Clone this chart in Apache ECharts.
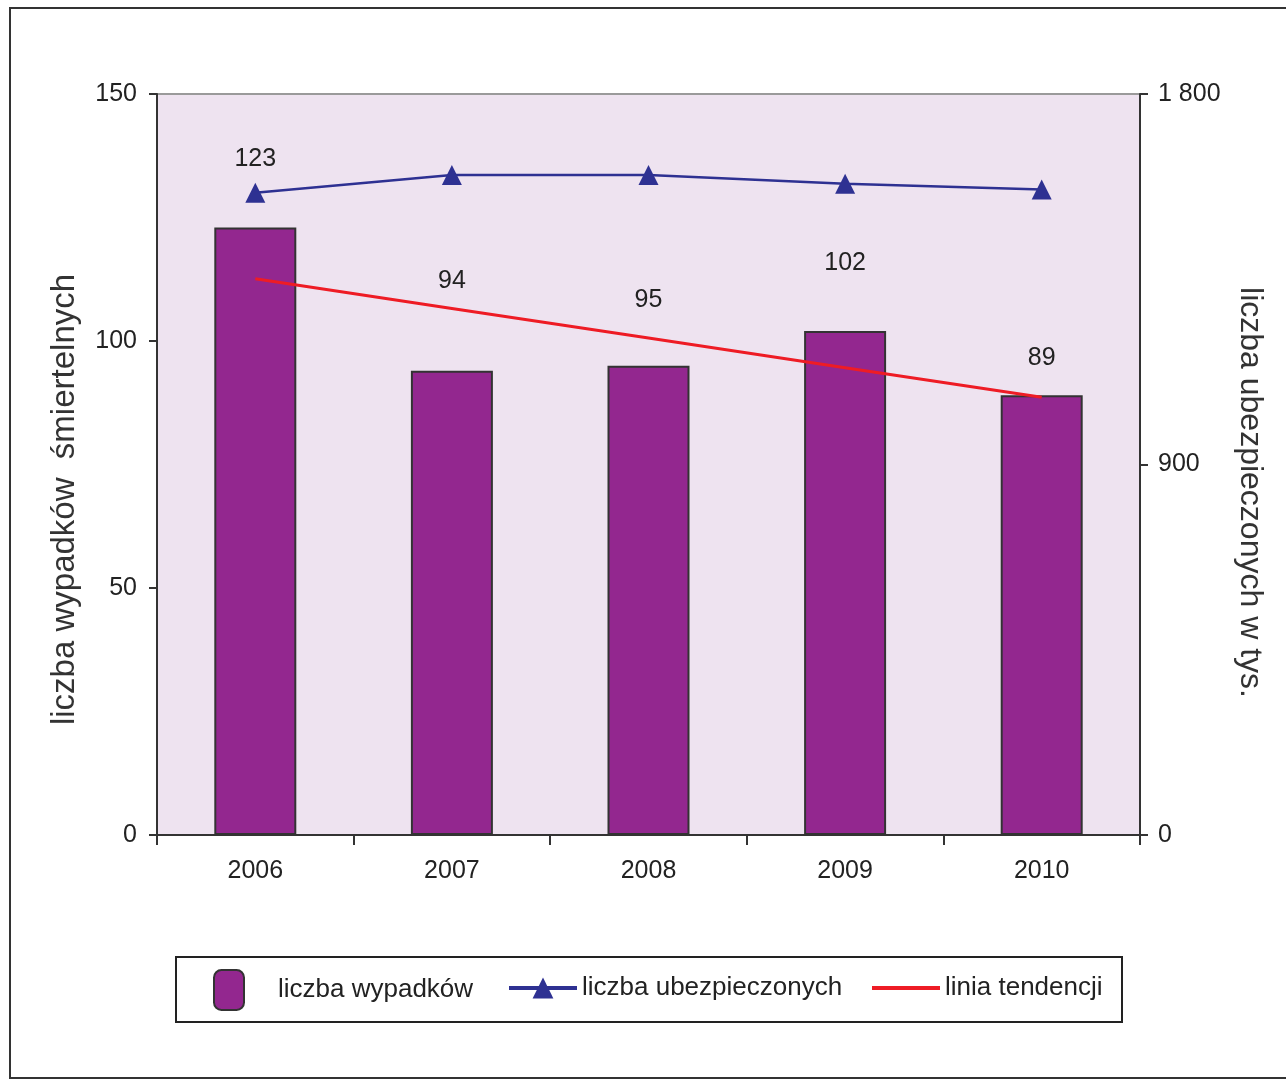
<!DOCTYPE html>
<html>
<head>
<meta charset="utf-8">
<style>html,body{margin:0;padding:0;background:#fff;}#c{width:1286px;height:1081px;}</style>
<script src="https://cdn.jsdelivr.net/npm/echarts@6/dist/echarts.min.js"></script>
</head>
<body>
<div id="c"></div>
<script>
// ---- data ----
const years = ['2006', '2007', '2008', '2009', '2010'];
const accidents = [123, 94, 95, 102, 89];          // liczba wypadków (left axis)
const insured = [1560, 1603, 1603, 1582, 1568];    // liczba ubezpieczonych w tys. (right axis)
const trend = [112.6, 106.6, 100.6, 94.6, 88.6];   // linia tendencji (left axis)
const leftTicks = ['0', '50', '100', '150'];
const rightTickLabels = {0: '0', 900: '900', 1800: '1 800'};

// ---- styles ----
const labelDistance = [56, 77, 53, 56, 25];
const font = "'Liberation Sans', Arial, sans-serif";
const txt = '#222';

const chart = echarts.init(document.getElementById('c'), null, {renderer: 'canvas'});

const legendBase = {
  orient: 'horizontal', padding: 0, itemGap: 0, selectedMode: false,
  textStyle: {fontFamily: font, fontSize: 26, color: txt}
};

chart.setOption({
  animation: false,
  backgroundColor: '#fff',
  grid: {left: 157, right: 146, top: 94, bottom: 246, show: true,
         backgroundColor: '#EEE3F0', borderColor: '#9a9a9a', borderWidth: 2},
  xAxis: {
    type: 'category', data: years, boundaryGap: true,
    axisLine: {lineStyle: {color: '#333', width: 2}},
    axisTick: {show: true, length: 10, lineStyle: {color: '#333', width: 2}},
    axisLabel: {margin: 24, fontFamily: font, fontSize: 25, color: txt}
  },
  yAxis: [{
    type: 'value', min: 0, max: 150, interval: 50, position: 'left',
    name: 'liczba wypadków  śmiertelnych', nameLocation: 'middle', nameRotate: 90, nameGap: 76,
    nameTextStyle: {fontFamily: font, fontSize: 33, color: '#333', padding: [0, 70, 0, 0]},
    axisLine: {show: true, lineStyle: {color: '#333', width: 2}},
    axisTick: {show: true, length: 8, lineStyle: {color: '#333', width: 2}},
    axisLabel: {margin: 20, fontFamily: font, fontSize: 25, color: txt,
                formatter: v => leftTicks[leftTicks.indexOf(String(v))]},
    splitLine: {show: false}
  }, {
    type: 'value', min: 0, max: 1800, interval: 900, position: 'right',
    name: 'liczba ubezpieczonych w tys.', nameLocation: 'middle', nameRotate: -90, nameGap: 94,
    nameTextStyle: {fontFamily: font, fontSize: 32, color: '#333', padding: [0, 0, 0, 56]},
    axisLine: {show: true, lineStyle: {color: '#333', width: 2}},
    axisTick: {show: true, length: 8, lineStyle: {color: '#333', width: 2}},
    axisLabel: {margin: 18, fontFamily: font, fontSize: 25, color: txt,
                formatter: v => rightTickLabels[v]},
    splitLine: {show: false}
  }],
  legend: [
    Object.assign({}, legendBase, {data: [{name: 'liczba wypadków', icon: 'roundRect'}],
      left: 213, top: 969, itemWidth: 30, itemHeight: 40,
      textStyle: Object.assign({}, legendBase.textStyle, {padding: [0, 0, 0, 29]})}),
    Object.assign({}, legendBase, {data: ['liczba ubezpieczonych'],
      left: 507, top: 975, itemWidth: 68, itemHeight: 26, lineStyle: {width: 4}}),
    Object.assign({}, legendBase, {data: [{name: 'linia tendencji', icon: 'rect'}],
      left: 872, top: 975, itemWidth: 68, itemHeight: 4})
  ],
  graphic: [
    {type: 'rect', shape: {x: 10, y: 8, width: 1300, height: 1070},
     style: {fill: 'none', stroke: '#333', lineWidth: 2}, z: -1},
    {type: 'rect', shape: {x: 176, y: 957, width: 946, height: 65},
     style: {fill: 'none', stroke: '#222', lineWidth: 2}}
  ],
  series: [{
    name: 'liczba wypadków', type: 'bar', yAxisIndex: 0, barWidth: 82,
    data: accidents.map((v, i) => ({value: v, label: {distance: labelDistance[i]}})),
    itemStyle: {color: '#93278F', borderColor: '#333', borderWidth: 2},
    label: {show: true, position: 'top', fontFamily: font, fontSize: 25, color: txt},
    z: 2
  }, {
    name: 'liczba ubezpieczonych', type: 'line', yAxisIndex: 1, data: insured,
    symbol: 'triangle', symbolSize: [20, 20], showSymbol: true,
    lineStyle: {color: '#2E3192', width: 2.5}, itemStyle: {color: '#2E3192'},
    z: 4
  }, {
    name: 'linia tendencji', type: 'line', yAxisIndex: 0, data: trend,
    symbol: 'none', lineStyle: {color: '#EE1C25', width: 3}, itemStyle: {color: '#EE1C25'},
    z: 3
  }]
});
</script>
</body>
</html>
